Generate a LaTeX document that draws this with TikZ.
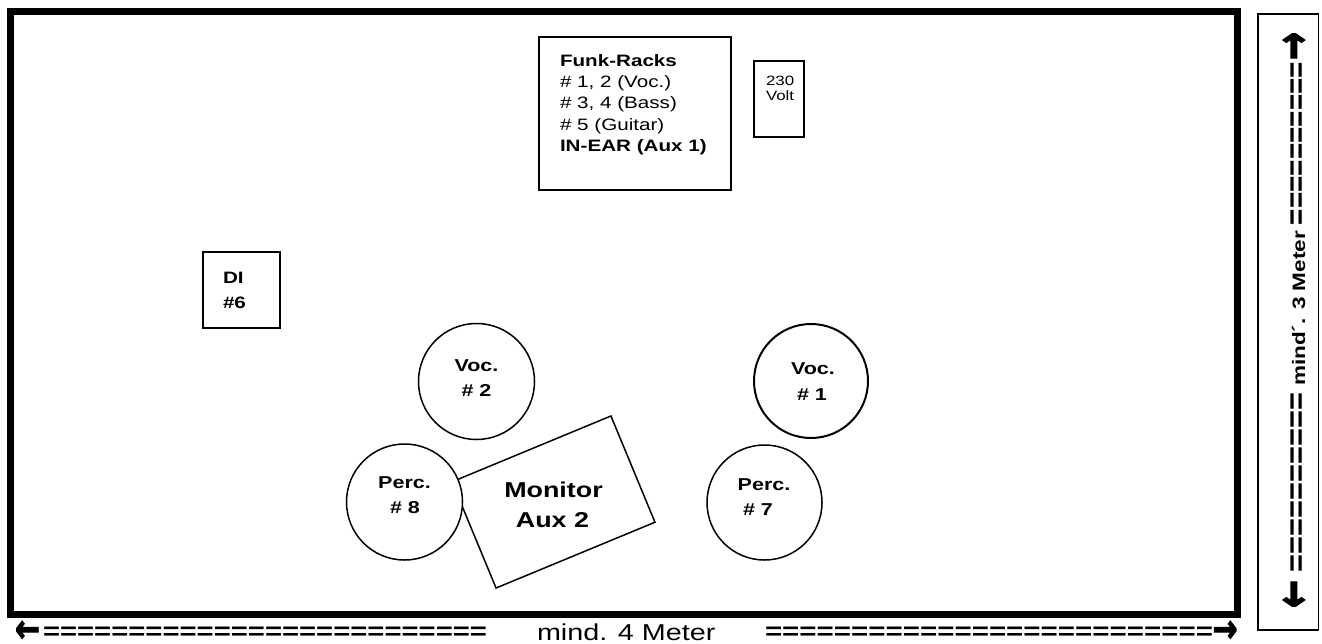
\documentclass[tikz,border=0pt]{standalone}
\usepackage{graphicx}
\usepackage{fontspec}
\setmainfont{Liberation Sans}
\newfontfamily\arrowfont{DejaVu Sans}[BoldFeatures={FakeBold=3}]
\newcommand\sx[1]{\scalebox{1.25}[1]{#1}}
\newcommand\fmain{\fontsize{16.5}{20}\selectfont}
\newcommand\fcirc{\fontsize{17.2}{20}\selectfont}
\tikzset{
  lbl/.style={inner sep=0pt, outer sep=0pt},
  boxshape/.style={draw, line width=1.5pt, inner sep=0pt},
  disc/.style={draw, line width=1.5pt, fill=white, circle, inner sep=0pt, minimum size=116pt},
  wl/.style={lbl, anchor=base west},
  cl/.style={lbl, anchor=base},
}
\begin{document}
\begin{tikzpicture}[x=1pt,y=-1pt]
\useasboundingbox (0,0) rectangle (1322,643);
% main stage frame
\draw[line width=7pt] (10.5,11) rectangle (1237,614.5);
% right dimension box
\node[boxshape, minimum width=60.5pt, minimum height=616pt] (rbox) at (1288.25,322) {};
% Funk-Racks box
\node[boxshape, minimum width=192pt, minimum height=153pt] (funk) at (635,113.5) {};
\node[wl] (f1) at (560,66.5) {\fmain\bfseries\sx{Funk-Racks}};
\node[wl] (f2) at (560,87.5) {\fmain\sx{\# 1, 2 (Voc.)}};
\node[wl] (f3) at (560,108.5) {\fmain\sx{\# 3, 4 (Bass)}};
\node[wl] (f4) at (560,130) {\fmain\sx{\# 5 (Guitar)}};
\node[wl] (f5) at (560,151.5) {\fmain\bfseries\sx{IN-EAR (Aux 1)}};
% 230 Volt box
\node[boxshape, minimum width=50pt, minimum height=76pt] (volt) at (779,99) {};
\node[wl] (v1) at (766,85) {\fontsize{13.5}{15}\selectfont\sx{230}};
\node[wl] (v2) at (766,100) {\fontsize{13.5}{15}\selectfont\sx{Volt}};
% DI box
\node[boxshape, minimum width=77pt, minimum height=76pt] (di) at (241.5,290) {};
\node[wl] (d1) at (223,283) {\fmain\bfseries\sx{DI}};
\node[wl] (d2) at (223,308) {\fmain\bfseries\sx{\#6}};
% Monitor wedge
\node[boxshape, fill=white, minimum width=172pt, minimum height=115pt, rotate=22.5] (mon) at (553.5,502) {};
% circles
\node[disc] (voc2) at (476.5,381.5) {};
\node[disc] (perc8) at (404.5,502) {};
\node[disc, line width=2pt, minimum size=114pt] (voc1) at (811,381) {};
\node[disc, minimum size=115pt] (perc7) at (764.5,502.5) {};
\node[cl] (t21) at (476.5,371) {\fcirc\bfseries\sx{Voc.}};
\node[cl] (t22) at (476.5,396) {\fcirc\bfseries\sx{\# 2}};
\node[cl] (t11) at (813,374) {\fcirc\bfseries\sx{Voc.}};
\node[cl] (t12) at (812,400) {\fcirc\bfseries\sx{\# 1}};
\node[cl] (t81) at (404.5,488) {\fcirc\bfseries\sx{Perc.}};
\node[cl] (t82) at (405,513) {\fcirc\bfseries\sx{\# 8}};
\node[cl] (t71) at (764,490) {\fcirc\bfseries\sx{Perc.}};
\node[wl] (t72) at (743,515) {\fcirc\bfseries\sx{\# 7}};
\node[cl] (m1) at (553.5,497) {\fontsize{21.5}{26}\selectfont\bfseries\sx{Monitor}};
\node[cl] (m2) at (552.5,527) {\fontsize{21.5}{26}\selectfont\bfseries\sx{Aux 2}};
% bottom dimension line
\node[lbl] (arL) at (27.5,631.5) {\arrowfont\bfseries\scalebox{1}[1.3]{\resizebox{25pt}{!}{←}}};
\node[wl] (eqL) at (43,639) {\fontsize{24}{28}\selectfont\bfseries\resizebox{444pt}{\height}{==========================}};
\node[wl] (btxt) at (537,640) {\fontsize{23}{28}\selectfont\scalebox{1.25}[1]{mind. 4 Meter}};
\node[wl] (eqR) at (765,639) {\fontsize{24}{28}\selectfont\bfseries\resizebox{448pt}{\height}{==========================}};
\node[lbl] (arR) at (1225,631.5) {\arrowfont\bfseries\scalebox{1}[1.3]{\resizebox{25pt}{!}{→}}};
% right vertical dimension line
\node[lbl, rotate=90] (arU) at (1296,46) {\arrowfont\bfseries\scalebox{1}[1.45]{\resizebox{28pt}{!}{→}}};
\node[lbl, rotate=90] (eqT) at (1299,143.5) {\fontsize{30}{34}\selectfont\bfseries\resizebox{163pt}{\height}{==========}};
\node[lbl, rotate=90] (vtxt) at (1298.5,308.5) {\fontsize{18}{22}\selectfont\bfseries\sx{mind´. 3 Meter}};
\node[lbl, rotate=90] (eqB) at (1299,482.5) {\fontsize{30}{34}\selectfont\bfseries\resizebox{179pt}{\height}{==========}};
\node[lbl, rotate=90] (arD) at (1296,594) {\arrowfont\bfseries\scalebox{1}[1.45]{\resizebox{28pt}{!}{←}}};
\end{tikzpicture}
\end{document}
